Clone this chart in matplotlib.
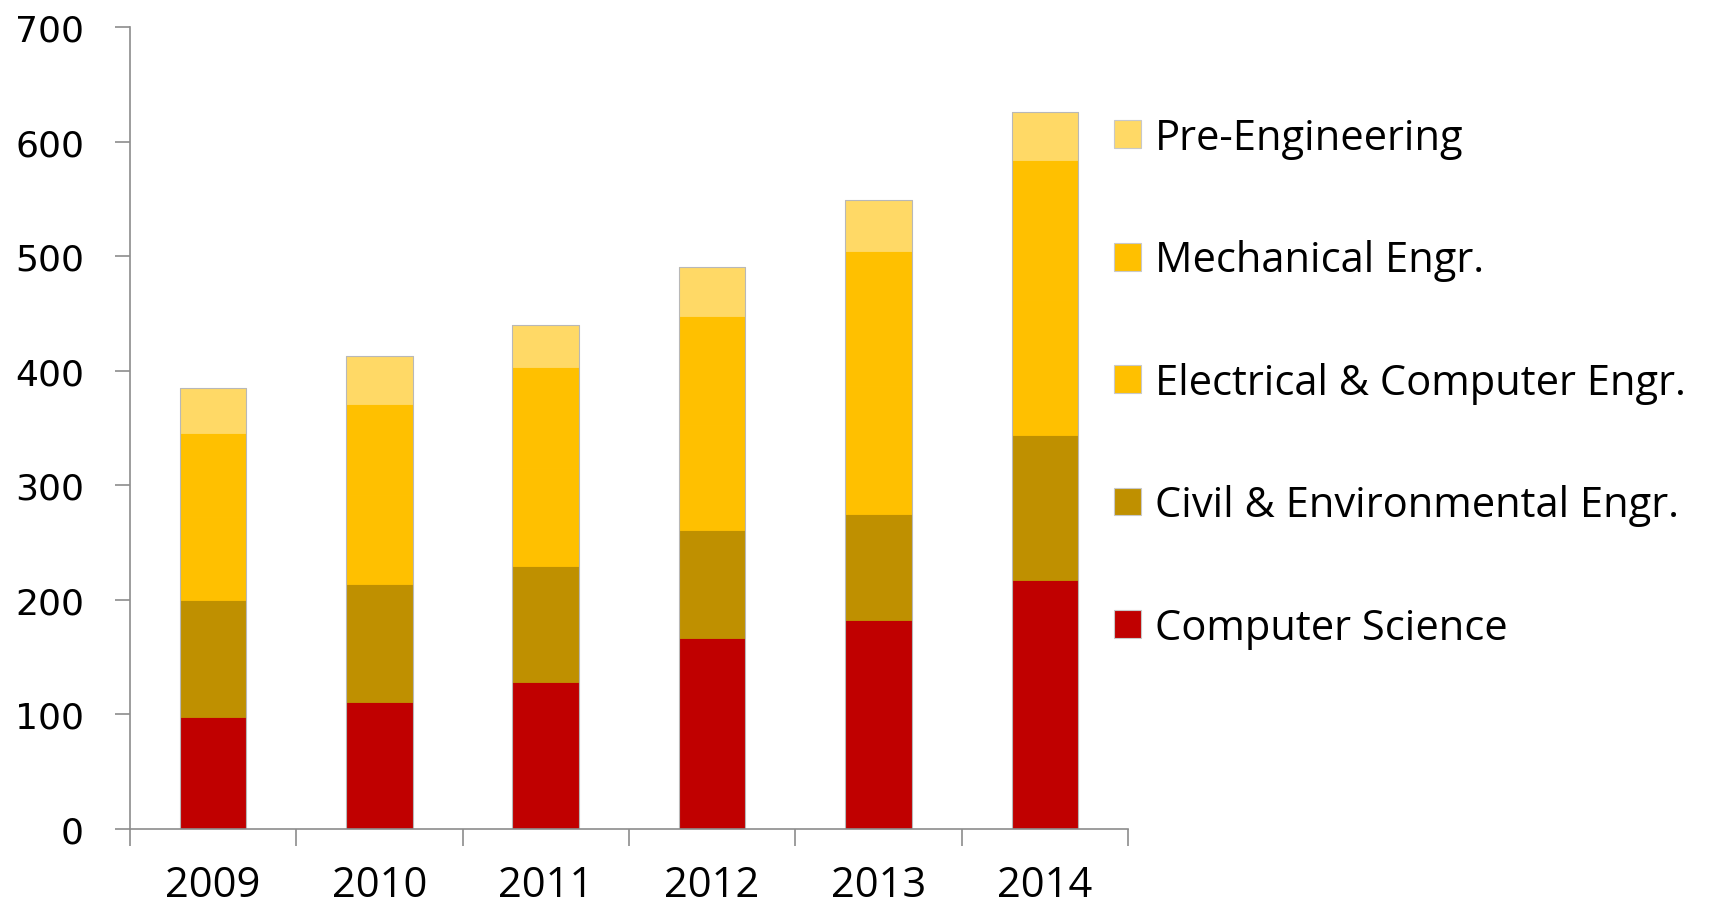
import numpy as np
import matplotlib.pyplot as plt
from matplotlib.patches import Patch

years = ["2009", "2010", "2011", "2012", "2013", "2014"]
computer_science = [98, 111, 128, 167, 182, 217]
civil_env = [102, 103, 102, 94, 93, 127]
elec_comp = [72, 78, 85, 92, 112, 118]
mechanical = [74, 79, 88, 95, 118, 122]
pre_eng = [39, 42, 37, 43, 44, 42]

series = [
    ("Computer Science", computer_science, "#C00000"),
    ("Civil & Environmental Engr.", civil_env, "#BF9000"),
    ("Electrical & Computer Engr.", elec_comp, "#FFC000"),
    ("Mechanical Engr.", mechanical, "#FFC000"),
    ("Pre-Engineering", pre_eng, "#FFD966"),
]

plt.rcParams['font.family'] = ['Open Sans', 'DejaVu Sans']

fig = plt.figure(figsize=(17.09, 9.12), dpi=100)
ax = fig.add_axes([0.076, 0.090, 0.584, 0.879])

x = np.arange(len(years))
bottom = np.zeros(len(years))
handles = []
for name, vals, col in series:
    ax.bar(x, vals, width=0.4, bottom=bottom, color=col, edgecolor=col, linewidth=0.6)
    bottom += np.array(vals)
    handles.append(Patch(facecolor=col, edgecolor="#c8c8c8", linewidth=0.8, label=name))

# thin gray outline around each full bar
ax.bar(x, bottom, width=0.4, fill=False, edgecolor="#b8b8b8", linewidth=0.8)

ax.set_xlim(-0.5, len(years) - 0.5)
ax.set_ylim(0, 700)
ax.set_yticks(range(0, 701, 100))
ax.set_xticks(x)
ax.set_xticklabels(years)
ax.set_xticks(np.arange(-0.5, len(years), 1), minor=True)

for s in ["top", "right"]:
    ax.spines[s].set_visible(False)
for s in ["left", "bottom"]:
    ax.spines[s].set_color("#8c8c8c")
    ax.spines[s].set_linewidth(1.2)

ax.tick_params(axis="y", length=11, width=1.2, color="#8c8c8c", pad=22)
for lab in ax.get_yticklabels():
    lab.set_fontfamily("DejaVu Sans")
    lab.set_fontsize(26)
ax.tick_params(axis="x", which="major", length=0, labelsize=30, pad=25)
ax.tick_params(axis="x", which="minor", length=12, width=1.2, color="#8c8c8c")

fig.legend(handles=handles[::-1], loc="upper left", bbox_to_anchor=(0.642, 0.889),
           frameon=False, fontsize=30, handlelength=0.65, handleheight=0.65,
           handletextpad=0.34, labelspacing=1.93, borderaxespad=0)

fig.savefig("out.png", dpi=100)
